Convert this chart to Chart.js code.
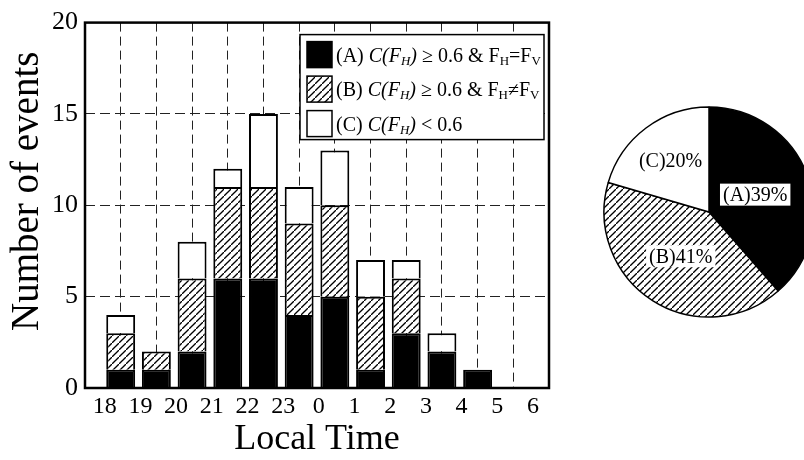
<!DOCTYPE html>
<html>
<head>
<meta charset="utf-8">
<script src="https://cdn.jsdelivr.net/npm/chart.js@4.4.0/dist/chart.umd.min.js"></script>
<style>
html, body { margin: 0; padding: 0; background: #fff; overflow: hidden; width: 804px; height: 460px; }
#bars { position: absolute; left: 0; top: 0; }
#pie { position: absolute; left: 602px; top: 105px; }
</style>
</head>
<body>
<canvas id="bars" width="560" height="460"></canvas>
<canvas id="pie" width="214" height="214"></canvas>
<script>
// hour bins (tick labels mark the start of each bin)
const hours = ['18', '19', '20', '21', '22', '23', '0', '1', '2', '3', '4', '5', '6'];
const typeA = [1, 1, 2, 6, 6, 4, 5, 1, 3, 2, 1, 0];
const typeB = [2, 1, 4, 5, 5, 5, 5, 4, 3, 0, 0, 0];
const typeC = [1, 0, 2, 1, 4, 2, 3, 2, 1, 1, 0, 0];
const pieLabels = ['(A)', '(B)', '(C)'];

const legendRows = [
  [{t: '(A) '}, {t: 'C(F', it: 1}, {t: 'H', it: 1, sub: 1}, {t: ')', it: 1}, {t: ' \u2265 0.6 & F'}, {t: 'H', sub: 1}, {t: '=F'}, {t: 'V', sub: 1}],
  [{t: '(B) '}, {t: 'C(F', it: 1}, {t: 'H', it: 1, sub: 1}, {t: ')', it: 1}, {t: ' \u2265 0.6 & F'}, {t: 'H', sub: 1}, {t: '\u2260F'}, {t: 'V', sub: 1}],
  [{t: '(C) '}, {t: 'C(F', it: 1}, {t: 'H', it: 1, sub: 1}, {t: ')', it: 1}, {t: ' < 0.6'}]
];

const SERIF = '"Liberation Serif", "Times New Roman", serif';

function hatch(ctx) {
  const c = document.createElement('canvas');
  c.width = 7; c.height = 7;
  const g = c.getContext('2d');
  g.fillStyle = '#fff';
  g.fillRect(0, 0, 7, 7);
  g.strokeStyle = '#000';
  g.lineWidth = 1.3;
  g.beginPath();
  g.moveTo(-1, 8); g.lineTo(8, -1);
  g.stroke();
  return ctx.createPattern(c, 'repeat');
}

const barCtx = document.getElementById('bars').getContext('2d');
const pieCtx = document.getElementById('pie').getContext('2d');
const fills = ['#000', hatch(barCtx), '#fff'];
const pieFills = ['#000', hatch(pieCtx), '#fff'];

function drawRich(ctx, parts, x, y) {
  ctx.textAlign = 'left';
  ctx.textBaseline = 'alphabetic';
  for (const p of parts) {
    ctx.font = (p.it ? 'italic ' : '') + (p.sub ? 13 : 20) + 'px ' + SERIF;
    ctx.fillText(p.t, x, y + (p.sub ? 3 : 0));
    x += ctx.measureText(p.t).width;
  }
}

// full box round the plot + y title (sits a bit above the centre in the original)
const framePlugin = {
  id: 'frame',
  afterDatasetsDraw(chart) {
    const {ctx, chartArea: a} = chart;
    ctx.save();
    ctx.strokeStyle = '#000';
    ctx.lineWidth = 2.5;
    ctx.strokeRect(a.left, a.top, a.right - a.left, a.bottom - a.top);
    ctx.translate(28, (a.top + a.bottom) / 2 - 14);
    ctx.rotate(-Math.PI / 2);
    ctx.fillStyle = '#000';
    ctx.font = '39px ' + SERIF;
    ctx.textAlign = 'center';
    ctx.textBaseline = 'middle';
    ctx.fillText('Number of events', 0, 0);
    ctx.restore();
  }
};

const legendPlugin = {
  id: 'richLegend',
  afterDraw(chart) {
    const {ctx, chartArea: a} = chart;
    const x0 = a.right - 249, y0 = a.top + 12;
    ctx.save();
    ctx.fillStyle = '#fff';
    ctx.fillRect(x0, y0, 244, 105);
    ctx.strokeStyle = '#000';
    ctx.lineWidth = 1.5;
    ctx.strokeRect(x0, y0, 244, 105);
    legendRows.forEach((row, i) => {
      const top = y0 + 7 + i * 34.5;
      ctx.fillStyle = fills[i];
      ctx.fillRect(x0 + 7, top, 25, 26);
      ctx.strokeStyle = '#000';
      ctx.lineWidth = 1.5;
      ctx.strokeRect(x0 + 7, top, 25, 26);
      ctx.fillStyle = '#000';
      drawRich(ctx, row, x0 + 36, top + 20);
    });
    ctx.restore();
  }
};

const mk = (arr) => arr.map((v, i) => ({x: i + 0.5, y: v}));

new Chart(barCtx, {
  type: 'bar',
  data: {
    datasets: [typeA, typeB, typeC].map((arr, k) => ({
      data: mk(arr),
      backgroundColor: fills[k],
      borderColor: '#000',
      borderWidth: 2,
      barPercentage: 0.81,
      categoryPercentage: 1
    }))
  },
  options: {
    responsive: false,
    animation: false,
    layout: {padding: {left: 0, top: 22, right: 11, bottom: 0}},
    plugins: {legend: {display: false}, tooltip: {enabled: false}},
    scales: {
      x: {
        type: 'linear',
        stacked: true,
        offset: false,
        min: -0.5,
        max: 12.5,
        afterBuildTicks: (s) => { s.ticks = hours.map((h, i) => ({value: i + 0.5})); },
        afterFit: (s) => { s.height = 72; },
        grid: {color: '#222', lineWidth: 1, drawTicks: false, offset: false},
        border: {display: false, dash: [9, 5]},
        ticks: {
          autoSkip: false,
          maxRotation: 0,
          padding: 4,
          labelOffset: -16,
          color: '#000',
          font: {family: SERIF, size: 24},
          callback: (v, i) => hours[i]
        },
        title: {
          display: true,
          text: 'Local Time',
          color: '#000',
          font: {family: SERIF, size: 36, lineHeight: 1},
          padding: {top: 0, bottom: 2}
        }
      },
      y: {
        stacked: true,
        min: 0,
        max: 20,
        afterFit: (s) => { s.width = 85; },
        grid: {color: '#222', lineWidth: 1, drawTicks: false},
        border: {display: false, dash: [10, 5]},
        ticks: {
          stepSize: 5,
          padding: 7,
          color: '#000',
          font: {family: SERIF, size: 26}
        }
      }
    }
  },
  plugins: [framePlugin, legendPlugin]
});

// pie: share of all events per type
const sum = (arr) => arr.reduce((a, b) => a + b, 0);
const pieValues = [sum(typeA), sum(typeB), sum(typeC)];
const labelRadius = [0.47, 0.5, 0.61];

const pieTextPlugin = {
  id: 'pieText',
  afterDatasetsDraw(chart) {
    const ctx = chart.ctx;
    const total = sum(pieValues);
    ctx.save();
    ctx.font = '20px ' + SERIF;
    ctx.textAlign = 'center';
    ctx.textBaseline = 'middle';
    chart.getDatasetMeta(0).data.forEach((arc, i) => {
      const mid = (arc.startAngle + arc.endAngle) / 2;
      const r = arc.outerRadius * labelRadius[i];
      const x = arc.x + Math.cos(mid) * r;
      const y = arc.y + Math.sin(mid) * r;
      const txt = pieLabels[i] + Math.round(100 * pieValues[i] / total) + '%';
      const w = ctx.measureText(txt).width;
      ctx.fillStyle = '#fff';
      ctx.fillRect(x - w / 2 - 3, y - 11, w + 6, 22);
      ctx.fillStyle = '#000';
      ctx.fillText(txt, x, y + 1);
    });
    ctx.restore();
  }
};

new Chart(pieCtx, {
  type: 'pie',
  data: {
    labels: pieLabels,
    datasets: [{
      data: pieValues,
      backgroundColor: pieFills,
      borderColor: '#000',
      borderWidth: 1.5
    }]
  },
  options: {
    responsive: false,
    animation: false,
    radius: 105,
    plugins: {legend: {display: false}, tooltip: {enabled: false}}
  },
  plugins: [pieTextPlugin]
});
</script>
</body>
</html>
